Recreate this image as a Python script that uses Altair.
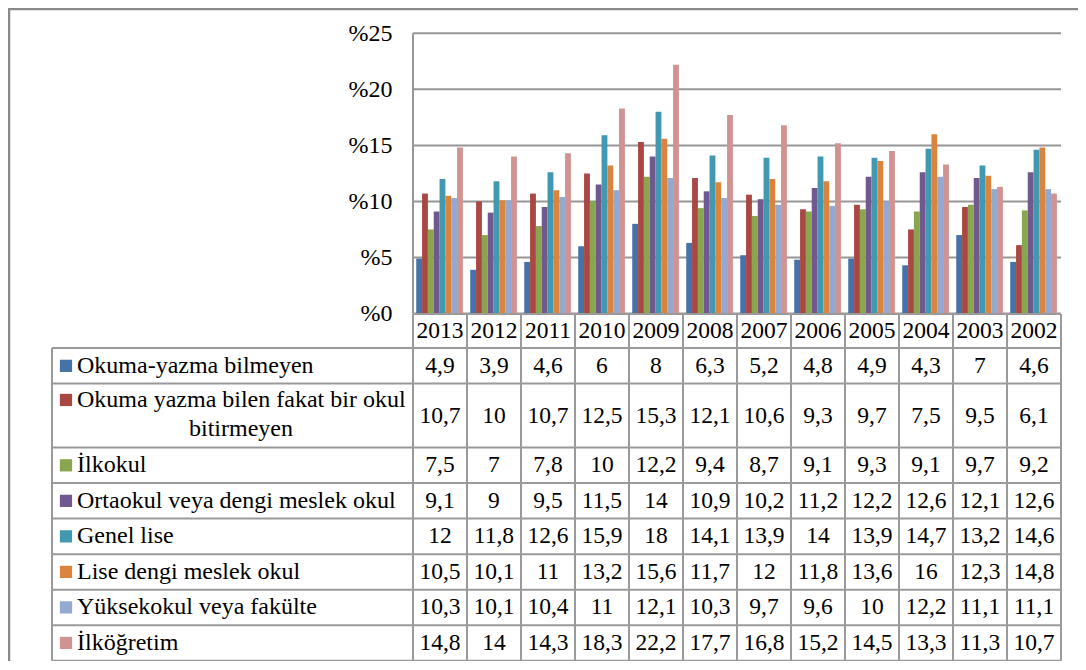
import altair as alt
import pandas as pd

# ---------------- data ----------------
years = ["2013", "2012", "2011", "2010", "2009", "2008", "2007", "2006",
         "2005", "2004", "2003", "2002"]
series = ["Okuma-yazma bilmeyen",
          "Okuma yazma bilen fakat bir okul bitirmeyen",
          "İlkokul",
          "Ortaokul veya dengi meslek okul",
          "Genel lise",
          "Lise dengi meslek okul",
          "Yüksekokul veya fakülte",
          "İlköğretim"]
series_lines = [["Okuma-yazma bilmeyen"],
                ["Okuma yazma bilen fakat bir okul", "bitirmeyen"],
                ["İlkokul"],
                ["Ortaokul veya dengi meslek okul"],
                ["Genel lise"],
                ["Lise dengi meslek okul"],
                ["Yüksekokul veya fakülte"],
                ["İlköğretim"]]
colors = ["#4572A7", "#AA4643", "#89A54E", "#71588F",
          "#4198AF", "#DB843D", "#93A9CF", "#D19392"]

okuma_yazma_bilmeyen = [4.9, 3.9, 4.6, 6, 8, 6.3, 5.2, 4.8, 4.9, 4.3, 7, 4.6]
okul_bitirmeyen = [10.7, 10, 10.7, 12.5, 15.3, 12.1, 10.6, 9.3, 9.7, 7.5, 9.5, 6.1]
ilkokul = [7.5, 7, 7.8, 10, 12.2, 9.4, 8.7, 9.1, 9.3, 9.1, 9.7, 9.2]
ortaokul = [9.1, 9, 9.5, 11.5, 14, 10.9, 10.2, 11.2, 12.2, 12.6, 12.1, 12.6]
genel_lise = [12, 11.8, 12.6, 15.9, 18, 14.1, 13.9, 14, 13.9, 14.7, 13.2, 14.6]
meslek_lise = [10.5, 10.1, 11, 13.2, 15.6, 11.7, 12, 11.8, 13.6, 16, 12.3, 14.8]
yuksekokul = [10.3, 10.1, 10.4, 11, 12.1, 10.3, 9.7, 9.6, 10, 12.2, 11.1, 11.1]
ilkogretim = [14.8, 14, 14.3, 18.3, 22.2, 17.7, 16.8, 15.2, 14.5, 13.3, 11.3, 10.7]
values = [okuma_yazma_bilmeyen, okul_bitirmeyen, ilkokul, ortaokul,
          genel_lise, meslek_lise, yuksekokul, ilkogretim]

y_ticks = [0, 5, 10, 15, 20, 25]
row_heights = [0.96, 1, 1.8, 1, 1, 1, 1, 1, 1]   # header row + 8 series rows

# ---------------- layout constants ----------------
W, H = 1070, 653
FONT = "Liberation Serif"
LINE = "#9a9a9a"
LABEL_LEFT = -6.685          # left edge of label column (in column units)
BAR_W = 0.108
BAR_PAD = 0.06

XS = alt.Scale(domain=[LABEL_LEFT, 12], range=[44, 1053])
YB = alt.Scale(domain=[0, 25], range=[305.5, 25.3], nice=False)
row_tops = [sum(row_heights[:i]) for i in range(len(row_heights))]
total_rows = sum(row_heights)
YT = alt.Scale(domain=[0, total_rows], range=[306, 652.7], nice=False)


def fmt(v):
    return f"{v:g}".replace(".", ",")


# bars
bar_rows = []
for si, (name, vals) in enumerate(zip(series, values)):
    for yi, (yr, v) in enumerate(zip(years, vals)):
        xs = yi + BAR_PAD + si * BAR_W
        bar_rows.append({"year": yr, "series": name, "value": v,
                         "xs": xs, "xe": xs + BAR_W})
bars_df = pd.DataFrame(bar_rows)

# table lines
lines = []
lines.append({"x": 0, "x2": 12, "y": 0, "y2": 0})
for t in row_tops[1:] + [total_rows]:
    lines.append({"x": LABEL_LEFT, "x2": 12, "y": t, "y2": t})
for c in range(13):
    lines.append({"x": c, "x2": c, "y": 0, "y2": total_rows})
lines.append({"x": LABEL_LEFT, "x2": LABEL_LEFT, "y": row_tops[1], "y2": total_rows})
lines_df = pd.DataFrame(lines)

# header text
header_df = pd.DataFrame({"x": [i + 0.5 for i in range(12)],
                          "y": [row_heights[0] / 2] * 12,
                          "t": years})

# value text
val_rows = []
for si, vals in enumerate(values):
    top = row_tops[si + 1]
    h = row_heights[si + 1]
    for yi, v in enumerate(vals):
        val_rows.append({"x": yi + 0.5, "y": top + h / 2, "t": fmt(v)})
vals_df = pd.DataFrame(val_rows)

# label text + legend keys
lab_rows = []
key_rows = []
for si, (name, ls) in enumerate(zip(series, series_lines)):
    top = row_tops[si + 1]
    if len(ls) == 1:
        lab_rows.append({"x": -6.222, "y": top + 0.5, "t": ls[0], "a": "left"})
        key_rows.append({"x": -6.426, "y": top + 0.5, "series": name})
    else:
        lab_rows.append({"x": -6.222, "y": top + 0.46, "t": ls[0], "a": "left"})
        lab_rows.append({"x": -3.185, "y": top + 1.28, "t": ls[1], "a": "center"})
        key_rows.append({"x": -6.426, "y": top + 0.46, "series": name})
labs_df = pd.DataFrame(lab_rows)
keys_df = pd.DataFrame(key_rows)

grid_df = pd.DataFrame({"t": y_ticks, "x0": 0, "x1": 12})
one = pd.DataFrame({"a": [0]})

color = alt.Color("series:N", scale=alt.Scale(domain=series, range=colors), legend=None)

frame_left = alt.Chart(one).mark_rule(color="#8a8a8a", strokeWidth=2.5).encode(
    x=alt.value(1), y=alt.value(0), y2=alt.value(H))
frame_top = alt.Chart(one).mark_rule(color="#8a8a8a", strokeWidth=2.5).encode(
    x=alt.value(0), x2=alt.value(W), y=alt.value(1))

grid = alt.Chart(grid_df).mark_rule(color="#969696", strokeWidth=2).encode(
    x=alt.X("x0:Q", scale=XS, axis=None),
    x2="x1:Q",
    y=alt.Y("t:Q", scale=YB, axis=None))

yaxis_line = alt.Chart(pd.DataFrame({"x": [0], "y0": [0], "y1": [25]})).mark_rule(
    color="#969696", strokeWidth=2).encode(
    x=alt.X("x:Q", scale=XS, axis=None),
    y=alt.Y("y0:Q", scale=YB, axis=None),
    y2="y1:Q")

bars = alt.Chart(bars_df).mark_rect().encode(
    x=alt.X("xs:Q", scale=XS, axis=None),
    x2="xe:Q",
    y=alt.Y("value:Q", scale=YB,
            axis=alt.Axis(values=y_ticks, labelExpr="'%' + datum.value",
                          orient="left", domain=False, ticks=False, tickSize=0,
                          grid=False, labelPadding=0, offset=-384,
                          labelFont=FONT, labelFontSize=24, labelColor="black",
                          title=None)),
    y2=alt.datum(0),
    color=color)

table_lines = alt.Chart(lines_df).mark_rule(color=LINE, strokeWidth=2).encode(
    x=alt.X("x:Q", scale=XS, axis=None),
    x2="x2:Q",
    y=alt.Y("y:Q", scale=YT, axis=None),
    y2="y2:Q")

header = alt.Chart(header_df).mark_text(
    font=FONT, fontSize=23.5, color="black", align="center", baseline="middle").encode(
    x=alt.X("x:Q", scale=XS, axis=None),
    y=alt.Y("y:Q", scale=YT, axis=None),
    text="t:N")

vals_text = alt.Chart(vals_df).mark_text(
    font=FONT, fontSize=23.5, color="black", align="center", baseline="middle").encode(
    x=alt.X("x:Q", scale=XS, axis=None),
    y=alt.Y("y:Q", scale=YT, axis=None),
    text="t:N")

labs_left = alt.Chart(labs_df[labs_df["a"] == "left"]).mark_text(
    font=FONT, fontSize=24, color="black", align="left", baseline="middle").encode(
    x=alt.X("x:Q", scale=XS, axis=None),
    y=alt.Y("y:Q", scale=YT, axis=None),
    text="t:N")

labs_center = alt.Chart(labs_df[labs_df["a"] == "center"]).mark_text(
    font=FONT, fontSize=24, color="black", align="center", baseline="middle").encode(
    x=alt.X("x:Q", scale=XS, axis=None),
    y=alt.Y("y:Q", scale=YT, axis=None),
    text="t:N")

keys = alt.Chart(keys_df).mark_square(size=150, opacity=1).encode(
    x=alt.X("x:Q", scale=XS, axis=None),
    y=alt.Y("y:Q", scale=YT, axis=None),
    color=color)

chart = alt.layer(
    frame_left, frame_top, grid, yaxis_line, bars, table_lines,
    header, vals_text, labs_left, labs_center, keys
).resolve_scale(y="independent").properties(
    width=W, height=H, autosize=alt.AutoSizeParams(type="none"), padding=0,
    background="white"
).configure_view(stroke=None).configure_text(font=FONT).configure_axis(labelFont=FONT)

chart.save("out.html", embed_options={"renderer": "svg", "actions": False})
